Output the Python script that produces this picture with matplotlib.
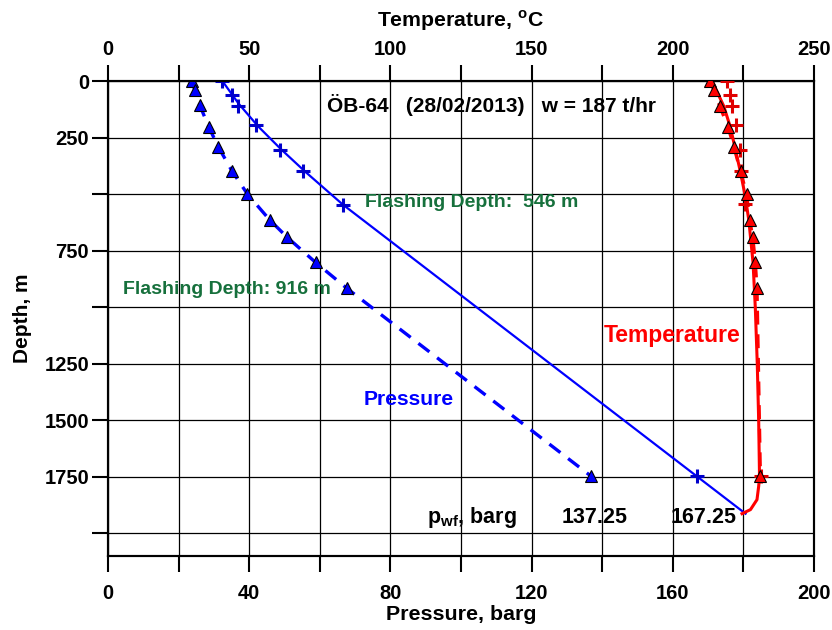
import numpy as np
import matplotlib.pyplot as plt
from matplotlib.ticker import MultipleLocator

plt.rcParams['font.family'] = ['Liberation Sans', 'DejaVu Sans']
plt.rcParams['font.weight'] = 'bold'
plt.rcParams['mathtext.fontset'] = 'custom'
plt.rcParams['mathtext.rm'] = 'Liberation Sans:bold'
plt.rcParams['mathtext.bf'] = 'Liberation Sans:bold'
plt.rcParams['lines.scale_dashes'] = False

# --- measured data (read from the chart) ---
# pressure, measured, well flowing (plus markers)
p_plus_depth = [0, 62, 110, 196, 306, 400, 546, 1748]
p_plus = [32.4, 35.1, 36.8, 41.8, 48.6, 55.2, 66.5, 166.9]
# pressure, second survey (triangles)
p_tri_depth = [0, 40, 107, 205, 290, 397, 500, 614, 690, 802, 917, 1748]
p_tri = [23.7, 24.6, 26.0, 28.6, 31.2, 35.1, 39.5, 45.8, 50.7, 58.8, 67.7, 136.9]

# pressure model line (solid)
p_line_depth = [0, 100, 200, 300, 400, 546, 1913]
p_line = [32.4, 37.0, 42.5, 48.9, 55.8, 66.5, 180.6]

# temperature measurements
t_tri_depth = [0, 40, 110, 205, 290, 400, 499, 614, 690, 802, 917, 1748]
t_tri = [213.3, 214.5, 216.6, 219.6, 221.6, 224.0, 226.1, 227.2, 228.3, 229.2, 229.8, 231.0]
t_plus_depth = [0, 62, 110, 196, 306, 400, 543, 1748]
t_plus = [219.2, 220.2, 221.0, 222.4, 223.7, 224.3, 225.7, 231.2]

# temperature model line (solid)
t_line_depth = [0, 110, 205, 400, 500, 614, 802, 1000, 1250, 1500, 1750, 1792, 1851, 1895, 1913]
t_line = [213.9, 218.0, 220.4, 223.9, 225.5, 226.9, 228.4, 229.2, 229.9, 230.4, 230.7, 230.4, 229.8, 227.5, 224.5]

depth_ticks = [0, 250, 500, 750, 1000, 1250, 1500, 1750, 2000]
depth_labels = ['0', '250', '', '750', '', '1250', '1500', '1750', '']

green = '#16703C'

fig = plt.figure(figsize=(8.32, 6.3), dpi=100)
ax = fig.add_axes([0.1298, 0.1175, 0.8486, 0.7539])
ax2 = ax.twiny()

ax.set_xlim(0, 200)
ax.set_ylim(2100, 0)
ax2.set_xlim(0, 250)

# grid
ax.xaxis.set_major_locator(MultipleLocator(40))
ax.xaxis.set_minor_locator(MultipleLocator(20))
ax.set_yticks(depth_ticks)
ax.set_yticklabels(depth_labels)
ax.grid(True, which='both', axis='x', color='black', lw=0.9)
ax.grid(True, which='major', axis='y', color='black', lw=0.9)
ax.set_axisbelow(True)

ax2.xaxis.set_major_locator(MultipleLocator(50))
ax2.xaxis.set_minor_locator(MultipleLocator(25))

for a in (ax, ax2):
    a.tick_params(which='both', direction='out', length=11.5, width=1.5, labelsize=14.5)
    for s in a.spines.values():
        s.set_linewidth(1.5)
ax.tick_params(axis='y', pad=2)
ax.tick_params(axis='x', pad=9)
ax2.tick_params(axis='x', pad=4.7)

# pressure
ax.plot(p_line, p_line_depth, color='blue', lw=1.6, zorder=3)
ax.plot(p_tri, p_tri_depth, color='blue', lw=2.4, dashes=(10, 7), zorder=3)
ax.plot(p_plus, p_plus_depth, ls='none', marker='+', ms=10, mew=2.2, color='#0000CC', zorder=4)
ax.plot(p_tri, p_tri_depth, ls='none', marker='^', ms=9, mfc='blue', mec='black', mew=0.8, zorder=4)

# temperature on top axis
ax2.plot(t_line, t_line_depth, color='red', lw=2.2, zorder=3)
ax2.plot(t_tri, t_tri_depth, color='red', lw=2.4, dashes=(10, 7), zorder=3)
ax2.plot(t_plus, t_plus_depth, ls='none', marker='+', ms=10, mew=2.2, color='#E00000', zorder=4)
ax2.plot(t_tri, t_tri_depth, ls='none', marker='^', ms=9, mfc='red', mec='black', mew=0.8, zorder=4)

ax.set_xlabel('Pressure, barg', fontsize=15.4, fontweight='bold', labelpad=1)
ax.set_ylabel('Depth, m', fontsize=15, fontweight='bold', labelpad=9)
ax2.set_xlabel(r'Temperature, $^{\mathbf{o}}$C', fontsize=15.3, fontweight='bold', labelpad=9)

ax.text(61.9, 106, 'ÖB-64   (28/02/2013)   w = 187 t/hr', fontsize=15, ha='left', va='center')
ax.text(72.7, 539, 'Flashing Depth:  546 m', fontsize=14, color=green, ha='left', va='center')
ax.text(4.2, 923, 'Flashing Depth: 916 m', fontsize=14, color=green, ha='left', va='center')
ax.text(159.7, 1126, 'Temperature', fontsize=16.5, color='red', ha='center', va='center')
ax.text(85.1, 1409, 'Pressure', fontsize=15.2, color='blue', ha='center', va='center')
ax.text(90.5, 1930, r'p$_{\mathbf{wf}}$, barg', fontsize=15.5, ha='left', va='center')
ax.text(128.6, 1930, '137.25', fontsize=15.5, ha='left', va='center')
ax.text(159.4, 1930, '167.25', fontsize=15.5, ha='left', va='center')

fig.savefig('out.png', dpi=100)
